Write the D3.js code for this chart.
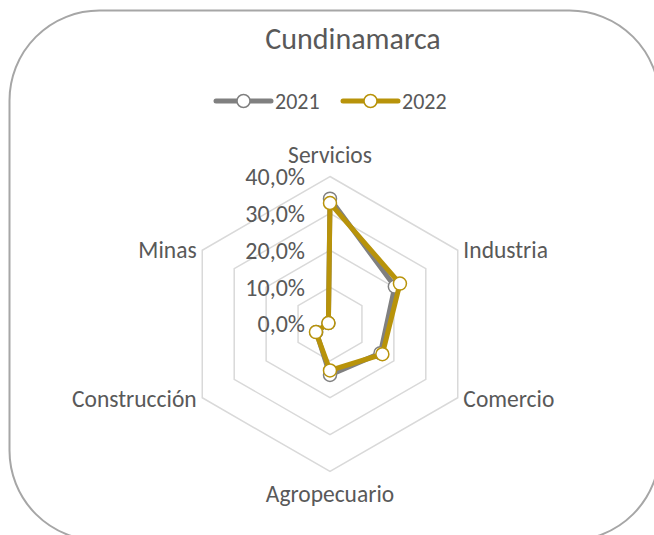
<!DOCTYPE html>
<html lang="es">
<head>
<meta charset="UTF-8">
<script src="https://d3js.org/d3.v7.min.js"></script>
<title>Cundinamarca</title>
<style>
  body { margin: 0; background: #fff; }
  text { font-family: Carlito, Lato, "Open Sans", sans-serif; fill: #595959; }
</style>
</head>
<body>
<svg id="chart" width="654" height="535"></svg>
<script>
var categories = ['Servicios', 'Industria', 'Comercio', 'Agropecuario', 'Construcción', 'Minas'];
var years = ['2021', '2022'];
var values2021 = [34.0, 20.3, 15.8, 13.8, 4.3, 0.5];
var values2022 = [32.8, 21.9, 16.4, 12.6, 4.4, 0.5];
var tickValues = [0, 10, 20, 30, 40];
var colors = ['#808080', '#B8930A'];

var svg = d3.select('#chart');
var cx = 330, cy = 324, outerR = 147.5;

// marco redondeado
svg.append('rect')
    .attr('x', 9.5).attr('y', 10.5)
    .attr('width', 650).attr('height', 530)
    .attr('rx', 90).attr('ry', 90)
    .attr('fill', 'none')
    .attr('stroke', '#A6A6A6')
    .attr('stroke-width', 2);

svg.append('text')
    .attr('x', 353).attr('y', 49)
    .attr('text-anchor', 'middle')
    .style('font-size', '30px')
    .text('Cundinamarca');

var r = d3.scaleLinear().domain([0, 40]).range([0, outerR]);
var angle = function(i){ return i * 2 * Math.PI / categories.length; };

var g = svg.append('g').attr('transform', 'translate(' + cx + ',' + cy + ')');

// rejilla
var gridLine = d3.lineRadial()
    .angle(function(d, i){ return angle(i); })
    .radius(function(d){ return r(d); })
    .curve(d3.curveLinearClosed);

g.selectAll('.grid')
    .data(tickValues.slice(1))
    .enter().append('path')
    .attr('class', 'grid')
    .attr('d', function(t){ return gridLine(categories.map(function(){ return t; })); })
    .attr('fill', 'none')
    .attr('stroke', '#D9D9D9')
    .attr('stroke-width', 1.5);

// etiquetas del eje
g.selectAll('.tick')
    .data(tickValues)
    .enter().append('text')
    .attr('x', -25)
    .attr('y', function(d){ return -r(d); })
    .attr('dy', '0.35em')
    .attr('text-anchor', 'end')
    .style('font-size', '24px')
    .text(function(d){ return d.toFixed(1).replace('.', ',') + '%'; });

// categorias
g.selectAll('.cat')
    .data(categories)
    .enter().append('text')
    .attr('x', function(d, i){
        return (outerR + 6.5) * Math.sin(angle(i));
    })
    .attr('y', function(d, i){
        var a = angle(i), c = Math.cos(a);
        var off = Math.abs(Math.sin(a)) < 0.01 ? 22 : 1.5;
        return -(outerR + off) * c;
    })
    .attr('dy', '0.35em')
    .attr('text-anchor', function(d, i){
        var s = Math.sin(angle(i));
        return s > 0.01 ? 'start' : (s < -0.01 ? 'end' : 'middle');
    })
    .style('font-size', '23.5px')
    .text(function(d){ return d; });

// series
var series = [values2021, values2022];
var seriesLine = d3.lineRadial()
    .angle(function(d, i){ return angle(i); })
    .radius(function(d){ return r(d); })
    .curve(d3.curveLinearClosed);

series.forEach(function(vals, k){
    var sg = g.append('g');
    sg.append('path')
        .attr('d', seriesLine(vals))
        .attr('fill', 'none')
        .attr('stroke', colors[k])
        .attr('stroke-width', 5)
        .attr('stroke-linejoin', 'round');
    sg.selectAll('circle')
        .data(vals)
        .enter().append('circle')
        .attr('cx', function(d, i){ return r(d) * Math.sin(angle(i)); })
        .attr('cy', function(d, i){ return -r(d) * Math.cos(angle(i)); })
        .attr('r', 6.5)
        .attr('fill', '#fff')
        .attr('stroke', colors[k])
        .attr('stroke-width', 1.5);
});

// leyenda
var legendX = [216, 343];
var leg = svg.selectAll('.leg')
    .data(years)
    .enter().append('g')
    .attr('transform', function(d, i){ return 'translate(' + legendX[i] + ',101)'; });
leg.append('line')
    .attr('x1', 0).attr('x2', 55)
    .attr('stroke', function(d, i){ return colors[i]; })
    .attr('stroke-width', 5)
    .attr('stroke-linecap', 'round');
leg.append('circle')
    .attr('cx', 27.5).attr('r', 6.5)
    .attr('fill', '#fff')
    .attr('stroke', function(d, i){ return colors[i]; })
    .attr('stroke-width', 1.5);
leg.append('text')
    .attr('x', 59).attr('dy', '0.35em')
    .style('font-size', '22px')
    .text(function(d){ return d; });
</script>
</body>
</html>
